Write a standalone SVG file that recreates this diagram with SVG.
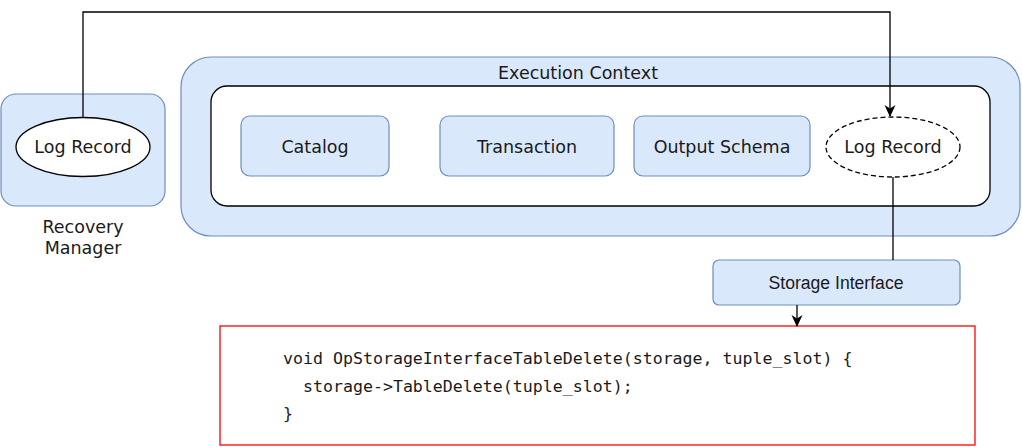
<svg xmlns="http://www.w3.org/2000/svg" width="1022" height="447" viewBox="0 0 1022 447">
<style>
.blue{fill:#dae8fc;stroke:#6c8ebf;stroke-width:1.2}
.lbl{font-family:"DejaVu Sans",Verdana,sans-serif;font-size:17.5px;fill:#1a1a1a;text-anchor:middle}
.conn{fill:none;stroke:#000;stroke-width:1.3}
.code{font-family:"DejaVu Sans Mono","Liberation Mono",monospace;font-size:16.6px;fill:#1a1a1a}
</style>
<defs>
<marker id="arr" viewBox="0 0 12 12" refX="11" refY="6" markerWidth="12" markerHeight="12" markerUnits="userSpaceOnUse" orient="auto">
<path d="M0,0.5 L12,6 L0,11.5 L3.5,6 Z" fill="#000"/>
</marker>
</defs>
<rect width="1022" height="447" fill="#fff"/>
<g id="recovery-manager">
<rect class="blue" x="1" y="94" width="164" height="112" rx="15"/>
<text class="lbl" x="83" y="233">Recovery</text>
<text class="lbl" x="83" y="254">Manager</text>
</g>
<g id="log-record-left">
<ellipse cx="83" cy="147" rx="67" ry="29.5" fill="#fff" stroke="#000" stroke-width="1.3"/>
<text class="lbl" x="83" y="153">Log Record</text>
</g>
<g id="execution-context">
<rect class="blue" x="181" y="57" width="839" height="179" rx="30"/>
<text class="lbl" x="578" y="79">Execution Context</text>
<rect x="211" y="86" width="779" height="120" rx="16" fill="#fff" stroke="#000" stroke-width="1.3"/>
</g>
<g id="catalog">
<rect class="blue" x="241" y="116" width="148" height="60" rx="9"/>
<text class="lbl" x="315" y="153">Catalog</text>
</g>
<g id="transaction">
<rect class="blue" x="440" y="116" width="174" height="60" rx="9"/>
<text class="lbl" x="527" y="153">Transaction</text>
</g>
<g id="output-schema">
<rect class="blue" x="634" y="116" width="176" height="60" rx="9"/>
<text class="lbl" x="722" y="153">Output Schema</text>
</g>
<g id="log-record-right">
<ellipse cx="893" cy="147" rx="67" ry="30" fill="#fff" stroke="#000" stroke-width="1.3" stroke-dasharray="5,3"/>
<text class="lbl" x="893" y="153">Log Record</text>
</g>
<g id="storage-interface">
<rect class="blue" x="713" y="260" width="247" height="45" rx="6"/>
<text x="836" y="289" font-family="'Liberation Sans',Arial,sans-serif" font-size="17.6" fill="#1a1a1a" text-anchor="middle">Storage Interface</text>
</g>
<g id="code-block">
<rect x="220" y="326" width="755" height="119" fill="#fff" stroke="#ff0000" stroke-width="1.3"/>
<text class="code" x="283" y="364" xml:space="preserve">void OpStorageInterfaceTableDelete(storage, tuple_slot) {</text>
<text class="code" x="283" y="392" xml:space="preserve">  storage-&gt;TableDelete(tuple_slot);</text>
<text class="code" x="283" y="419">}</text>
</g>
<g id="connectors">
<path class="conn" d="M83,117 V12 H890 V116" marker-end="url(#arr)"/>
<path class="conn" d="M893,177 V260"/>
<path class="conn" d="M797,305 V326" marker-end="url(#arr)"/>
</g>
</svg>
